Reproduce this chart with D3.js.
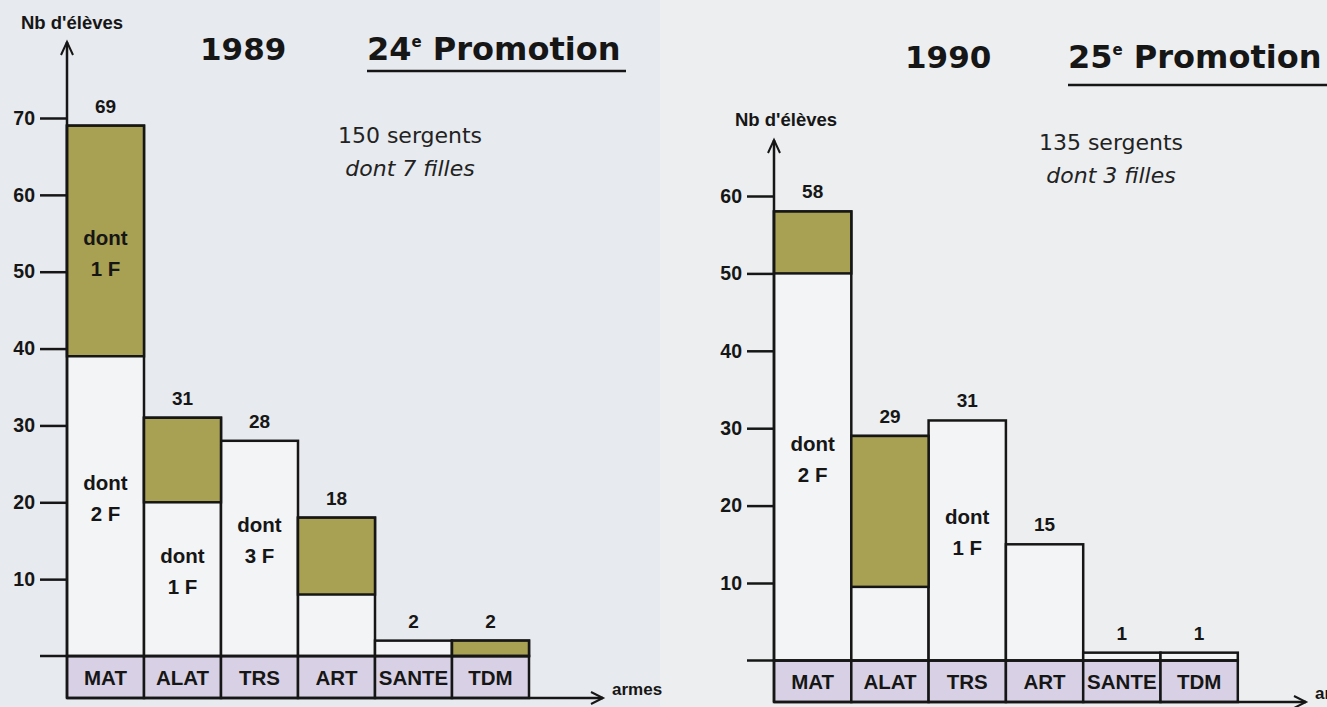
<!DOCTYPE html>
<html>
<head>
<meta charset="utf-8">
<script src="https://cdn.jsdelivr.net/npm/d3@7"></script>
<style>
  body { margin: 0; background: #e8ebee; }
  svg { display: block; }
</style>
</head>
<body>
<div id="chart"></div>
<script>
// categories (armes)
var categories = ["MAT", "ALAT", "TRS", "ART", "SANTE", "TDM"];

// 1989 - 24e promotion
var totals1989 = [69, 31, 28, 18, 2, 2];
var shadedFrom1989 = [39, 20, null, 8, null, 0];
var ticks1989 = [10, 20, 30, 40, 50, 60, 70];
var notes1989 = [
  {cat: "MAT", part: "shaded", lines: ["dont", "1 F"]},
  {cat: "MAT", part: "plain", lines: ["dont", "2 F"]},
  {cat: "ALAT", part: "plain", lines: ["dont", "1 F"]},
  {cat: "TRS", part: "plain", lines: ["dont", "3 F"]}
];

// 1990 - 25e promotion
var totals1990 = [58, 29, 31, 15, 1, 1];
var shadedFrom1990 = [50, 9.5, null, null, null, null];
var ticks1990 = [10, 20, 30, 40, 50, 60];
var notes1990 = [
  {cat: "MAT", part: "plain", lines: ["dont", "2 F"]},
  {cat: "TRS", part: "plain", lines: ["dont", "1 F"]}
];

var W = 1327, H = 707;
var olive = "#a8a052", lavender = "#d8d1e5", barWhite = "#f3f4f6", ink = "#161616";
var sans = "Liberation Sans, Arial, sans-serif";

var svg = d3.select("#chart").append("svg")
    .attr("width", W)
    .attr("height", H);

svg.append("rect").attr("width", W).attr("height", H).attr("fill", "#e7eaee");
svg.append("rect").attr("x", 660).attr("width", W - 660).attr("height", H).attr("fill", "#eceef0");

function drawPanel(p) {
  var g = svg.append("g");

  var x = d3.scaleBand().domain(categories).range([p.axisX, p.axisX + p.bandW * categories.length]).padding(0);
  var y = d3.scaleLinear().domain([0, p.ticks[p.ticks.length - 1]]).range([p.base, p.top]);

  var rows = categories.map(function(c, i) {
    return {cat: c, total: p.totals[i], from: p.shadedFrom[i]};
  });

  // category boxes under the baseline
  g.selectAll(".catbox")
    .data(categories)
    .enter().append("rect")
      .attr("x", function(d) { return x(d); })
      .attr("y", p.base)
      .attr("width", x.bandwidth())
      .attr("height", p.bottom - p.base)
      .attr("fill", lavender)
      .attr("stroke", ink)
      .attr("stroke-width", 2.5);

  g.selectAll(".catlabel")
    .data(categories)
    .enter().append("text")
      .attr("x", function(d) { return x(d) + x.bandwidth() / 2; })
      .attr("y", (p.base + p.bottom) / 2 + 8)
      .attr("text-anchor", "middle")
      .attr("font-family", sans)
      .attr("font-weight", "bold")
      .attr("font-size", 20.5)
      .attr("fill", ink)
      .text(function(d) { return d; });

  // bars
  g.selectAll(".bar")
    .data(rows)
    .enter().append("rect")
      .attr("x", function(d) { return x(d.cat); })
      .attr("y", function(d) { return y(d.total); })
      .attr("width", x.bandwidth())
      .attr("height", function(d) { return y(0) - y(d.total); })
      .attr("fill", barWhite)
      .attr("stroke", ink)
      .attr("stroke-width", 2.5);

  g.selectAll(".shade")
    .data(rows.filter(function(d) { return d.from !== null; }))
    .enter().append("rect")
      .attr("x", function(d) { return x(d.cat); })
      .attr("y", function(d) { return y(d.total); })
      .attr("width", x.bandwidth())
      .attr("height", function(d) { return y(d.from) - y(d.total); })
      .attr("fill", olive)
      .attr("stroke", ink)
      .attr("stroke-width", 2.5);

  // value labels
  g.selectAll(".val")
    .data(rows)
    .enter().append("text")
      .attr("x", function(d) { return x(d.cat) + x.bandwidth() / 2; })
      .attr("y", function(d) { return y(d.total) - 13; })
      .attr("text-anchor", "middle")
      .attr("font-family", sans)
      .attr("font-weight", "bold")
      .attr("font-size", 19)
      .attr("fill", ink)
      .text(function(d) { return d.total; });

  // "dont x F" notes, centred in their part of the bar
  var byCat = {};
  rows.forEach(function(r) { byCat[r.cat] = r; });
  var notes = g.selectAll(".note")
    .data(p.notes)
    .enter().append("text")
      .attr("text-anchor", "middle")
      .attr("font-family", sans)
      .attr("font-weight", "bold")
      .attr("font-size", 20.5)
      .attr("fill", ink)
      .attr("transform", function(d) {
        var r = byCat[d.cat];
        var lo = d.part === "shaded" ? r.from : 0;
        var hi = d.part === "shaded" ? r.total : (r.from === null ? r.total : r.from);
        var cy = y((lo + hi) / 2) + (d.part === "shaded" ? 8 : -12);
        return "translate(" + (x(d.cat) + x.bandwidth() / 2) + "," + cy + ")";
      });
  notes.selectAll("tspan")
    .data(function(d) { return d.lines; })
    .enter().append("tspan")
      .attr("x", 0)
      .attr("y", function(d, i) { return i === 0 ? -4 : 27; })
      .text(function(d) { return d; });

  // baseline
  g.append("line")
    .attr("x1", p.axisX - 27).attr("x2", x.range()[1])
    .attr("y1", p.base).attr("y2", p.base)
    .attr("stroke", ink).attr("stroke-width", 2.5);

  // y axis with ticks
  var yAxis = g.append("g")
    .attr("transform", "translate(" + p.axisX + ",0)")
    .call(d3.axisLeft(y).tickValues(p.ticks).tickSize(27).tickPadding(5).tickFormat(d3.format("d")));
  yAxis.select(".domain").remove();
  yAxis.selectAll(".tick line").attr("stroke", ink).attr("stroke-width", 2.5);
  yAxis.selectAll(".tick text")
    .attr("font-family", sans)
    .attr("font-weight", "bold")
    .attr("font-size", 19.5)
    .attr("fill", ink);

  g.append("line")
    .attr("x1", p.axisX).attr("x2", p.axisX)
    .attr("y1", p.arrowTop).attr("y2", p.bottom)
    .attr("stroke", ink).attr("stroke-width", 2.5);
  g.append("path")
    .attr("d", "M" + (p.axisX - 6) + "," + (p.arrowTop + 13) + "L" + p.axisX + "," + p.arrowTop + "L" + (p.axisX + 6) + "," + (p.arrowTop + 13))
    .attr("fill", "none").attr("stroke", ink).attr("stroke-width", 2);

  // x axis (armes)
  g.append("line")
    .attr("x1", p.axisX).attr("x2", p.arrowRight)
    .attr("y1", p.bottom).attr("y2", p.bottom)
    .attr("stroke", ink).attr("stroke-width", 2.5);
  g.append("path")
    .attr("d", "M" + (p.arrowRight - 12) + "," + (p.bottom - 6) + "L" + p.arrowRight + "," + p.bottom + "L" + (p.arrowRight - 12) + "," + (p.bottom + 6))
    .attr("fill", "none").attr("stroke", ink).attr("stroke-width", 2);
  g.append("text")
    .attr("x", p.arrowRight + 9)
    .attr("y", p.bottom - 3)
    .attr("font-family", sans)
    .attr("font-weight", "bold")
    .attr("font-size", 17)
    .attr("fill", ink)
    .text("armes");

  // axis title
  g.append("text")
    .attr("x", p.yTitleX)
    .attr("y", p.yTitleY)
    .attr("text-anchor", "middle")
    .attr("font-family", sans)
    .attr("font-weight", "bold")
    .attr("font-size", 18.5)
    .attr("fill", ink)
    .text("Nb d'élèves");

  // headings
  g.append("text")
    .attr("x", p.yearX).attr("y", p.titleY)
    .attr("font-family", "DejaVu Sans, sans-serif")
    .attr("font-weight", "bold")
    .attr("font-size", 31)
    .attr("fill", ink)
    .text(p.year);
  var promo = g.append("text")
    .attr("x", p.promoX).attr("y", p.titleY)
    .attr("font-family", "DejaVu Sans, sans-serif")
    .attr("font-weight", "bold")
    .attr("font-size", 32)
    .attr("fill", ink);
  promo.append("tspan").text(p.promoNum);
  promo.append("tspan").attr("font-size", 15).attr("dy", -13).text("e");
  promo.append("tspan").attr("dy", 13).text(" Promotion");
  g.append("line")
    .attr("x1", p.promoX).attr("x2", p.promoX + p.promoW)
    .attr("y1", p.underlineY).attr("y2", p.underlineY)
    .attr("stroke", ink).attr("stroke-width", 2.5);

  g.append("text")
    .attr("x", p.sumX).attr("y", p.sumY)
    .attr("text-anchor", "middle")
    .attr("font-family", "DejaVu Sans, sans-serif")
    .attr("font-size", 22)
    .attr("fill", "#222")
    .text(p.sum1);
  g.append("text")
    .attr("x", p.sumX).attr("y", p.sumY + 33)
    .attr("text-anchor", "middle")
    .attr("font-family", "DejaVu Sans, sans-serif")
    .attr("font-style", "italic")
    .attr("font-size", 22)
    .attr("fill", "#222")
    .text(p.sum2);
}

drawPanel({
  totals: totals1989, shadedFrom: shadedFrom1989, ticks: ticks1989, notes: notes1989,
  axisX: 67, bandW: 77, base: 656, top: 118, bottom: 698, arrowTop: 42, arrowRight: 603,
  yTitleX: 72, yTitleY: 29,
  year: "1989", yearX: 200, promoNum: "24", promoX: 367, promoW: 259, titleY: 60, underlineY: 71,
  sumX: 410, sumY: 143, sum1: "150 sergents", sum2: "dont 7 filles"
});

drawPanel({
  totals: totals1990, shadedFrom: shadedFrom1990, ticks: ticks1990, notes: notes1990,
  axisX: 774, bandW: 77.3, base: 660.4, top: 196, bottom: 702, arrowTop: 140, arrowRight: 1306,
  yTitleX: 786, yTitleY: 126,
  year: "1990", yearX: 905, promoNum: "25", promoX: 1068, promoW: 262, titleY: 68, underlineY: 85,
  sumX: 1111, sumY: 150, sum1: "135 sergents", sum2: "dont 3 filles"
});
</script>
</body>
</html>
